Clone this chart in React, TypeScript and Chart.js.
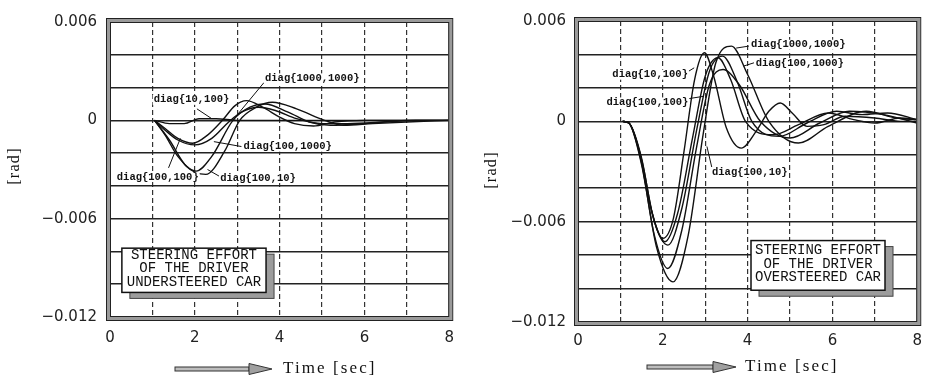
import React, { useEffect, useRef } from "react";
import { Chart, registerables } from "chart.js";

Chart.register(...registerables);

type P = [number, number];

// ---------- Understeered car (left panel) ----------
const under_10_100: P[] = [[1.05, 0], [1.4, -0.0002], [1.75, -0.0002], [2.1, 0.0001], [2.5, 0.0001], [3.0, 0], [8, 0]];
const under_1000_1000: P[] = [[1.05, 0], [1.3, -0.0005], [1.6, -0.0011], [1.95, -0.0014], [2.3, -0.0009], [2.65, 0], [2.95, 0.0009], [3.22, 0.0012], [3.6, 0.0008], [4.0, 0.0002], [4.35, -0.0002], [4.8, -0.00035], [5.3, -0.0001], [6.0, 0], [8, 0]];
const under_100_1000: P[] = [[1.05, 0], [1.3, -0.0006], [1.6, -0.0012], [2.0, -0.0015], [2.4, -0.0011], [2.8, -0.0001], [3.1, 0.0005], [3.5, 0.0008], [3.9, 0.0006], [4.4, 0.0001], [5.0, -0.0002], [5.6, -0.0002], [6.5, -0.0001], [7.2, 0], [8, 0]];
const under_100_100: P[] = [[1.05, 0], [1.3, -0.0009], [1.6, -0.0022], [2.03, -0.0031], [2.4, -0.0022], [2.9, 0], [3.3, 0.0008], [3.65, 0.001], [4.2, 0.0005], [4.7, -0.0001], [5.2, -0.0003], [6.0, -0.0002], [7.0, 0], [8, 0]];
const under_100_10: P[] = [[1.05, 0], [1.4, -0.0012], [1.8, -0.0028], [2.26, -0.0033], [2.7, -0.0019], [3.06, 0], [3.45, 0.0008], [3.83, 0.0011], [4.4, 0.0007], [5.06, 0], [5.5, -0.0003], [6.2, -0.0002], [7.0, -0.0001], [8, 0]];

// ---------- Oversteered car (right panel) ----------
const over_10_100: P[] = [[1.05, 0], [1.2, -0.0001], [1.45, -0.0018], [1.7, -0.005], [2.0, -0.007], [2.25, -0.0058], [2.5, -0.0018], [2.75, 0.0025], [2.98, 0.0041], [3.2, 0.0027], [3.5, -0.0004], [3.85, -0.0016], [4.2, -0.0006], [4.5, 0.0006], [4.77, 0.0011], [5.05, 0.0005], [5.4, -0.0003], [5.8, -0.0002], [6.3, 0.0003], [7.0, 0.0002], [7.6, 0], [8, 0]];
const over_100_100: P[] = [[1.05, 0], [1.2, -0.0001], [1.5, -0.0022], [1.75, -0.0055], [2.05, -0.0072], [2.35, -0.0055], [2.7, -0.001], [3.0, 0.0027], [3.3, 0.0038], [3.6, 0.0025], [3.95, 0], [4.6, -0.0008], [5.2, -0.0002], [5.9, 0.0005], [6.5, 0.0001], [7.0, -0.0001], [7.6, 0.0002], [8, 0.0001]];
const over_100_10: P[] = [[1.05, 0], [1.2, -0.0001], [1.5, -0.0023], [1.8, -0.006], [2.12, -0.0074], [2.45, -0.0052], [2.8, -0.0005], [3.1, 0.003], [3.41, 0.0039], [3.75, 0.0024], [4.1, 0], [4.75, -0.0009], [5.4, -0.0001], [6.1, 0.0006], [6.7, 0.0004], [7.3, 0.0005], [8, 0.0001]];
const over_100_1000: P[] = [[1.05, 0], [1.2, -0.0001], [1.5, -0.0025], [1.8, -0.0068], [2.12, -0.0088], [2.45, -0.0065], [2.8, -0.0015], [3.1, 0.0022], [3.42, 0.0031], [3.8, 0.0022], [4.3, 0], [5.0, -0.001], [5.7, -0.0001], [6.4, 0.0006], [7.2, 0.0004], [8, -0.0001]];
const over_1000_1000: P[] = [[1.05, 0], [1.2, -0.0001], [1.5, -0.0026], [1.85, -0.0075], [2.24, -0.0096], [2.6, -0.0068], [2.95, -0.0008], [3.25, 0.0035], [3.62, 0.0045], [4.0, 0.0028], [4.5, 0], [5.2, -0.0013], [5.9, -0.0003], [6.8, 0.0006], [7.5, 0.0002], [8, 0.0001]];

// ---------- Axes ----------
const xMin = 0, xMax = 8, xStep = 1;
const yMin = -0.012, yMax = 0.006, yStep = 0.002;

// ---------- Annotations (text, anchor [t, v], leader from -> to) ----------
type Lbl = { text: string; at: P; from: P; to: P };
const underLabels: Lbl[] = [
  { text: "diag{1000,1000}", at: [3.655, 0.00256], from: [3.63, 0.0023], to: [2.99, 0.0003] },
  { text: "diag{10,100}", at: [1.03, 0.00125], from: [2.05, 0.0007], to: [2.4, 0.0001] },
  { text: "diag{100,1000}", at: [3.15, -0.00161], from: [3.1, -0.0016], to: [2.45, -0.0013] },
  { text: "diag{100,100}", at: [0.16, -0.00346], from: [1.38, -0.0029], to: [1.66, -0.0011] },
  { text: "diag{100,10}", at: [2.6, -0.00352], from: [2.57, -0.0034], to: [2.3, -0.003] },
];
const overLabels: Lbl[] = [
  { text: "diag{1000,1000}", at: [4.08, 0.00458], from: [4.03, 0.0045], to: [3.73, 0.00438] },
  { text: "diag{100,1000}", at: [4.19, 0.00345], from: [4.15, 0.0035], to: [3.9, 0.0033] },
  { text: "diag{10,100}", at: [0.81, 0.00279], from: [2.42, 0.0027], to: [2.74, 0.0032] },
  { text: "diag{100,100}", at: [0.67, 0.00113], from: [2.47, 0.0013], to: [2.97, 0.0015] },
  { text: "diag{100,10}", at: [3.16, -0.00303], from: [3.16, -0.0028], to: [3.04, -0.0015] },
];
const underBoxLines = ["STEERING EFFORT", "OF THE DRIVER", "UNDERSTEERED CAR"];
const overBoxLines = ["STEERING EFFORT", "OF THE DRIVER", "OVERSTEERED CAR"];
const xTitle = "Time [sec]";
const yTitle = "[rad]";

const decorPlugin = {
  id: "decor",
  afterDatasetsDraw(chart: any, _a: any, o: any) {
    const ctx = chart.ctx;
    const xs = chart.scales.x, ys = chart.scales.y;
    const X = (t: number) => xs.getPixelForValue(t);
    const Y = (v: number) => ys.getPixelForValue(v);
    ctx.save();
    // labels & leaders
    ctx.strokeStyle = "#111";
    ctx.lineWidth = 1;
    ctx.fillStyle = "#111";
    ctx.font = "bold 10.5px 'Liberation Mono'";
    ctx.textBaseline = "middle";
    ctx.textAlign = "left";
    for (const l of o.labels as Lbl[]) {
      ctx.beginPath();
      ctx.moveTo(X(l.from[0]), Y(l.from[1]));
      ctx.lineTo(X(l.to[0]), Y(l.to[1]));
      ctx.stroke();
      const tx = X(l.at[0]), ty = Y(l.at[1]);
      const w = ctx.measureText(l.text).width;
      ctx.fillStyle = "#fff";
      ctx.fillRect(tx - 1, ty - 5, w + 2, 10);
      ctx.fillStyle = "#111";
      ctx.fillText(l.text, tx, ty);
    }
    // box with shadow
    const b = o.box;
    const bx0 = X(b.x0), bx1 = X(b.x1), by0 = Y(b.y0), by1 = Y(b.y1);
    ctx.fillStyle = "#9c9c9c";
    ctx.strokeStyle = "#444";
    ctx.lineWidth = 1;
    ctx.fillRect(bx0 + 8, by0 + 6, bx1 - bx0, by1 - by0);
    ctx.strokeRect(bx0 + 8, by0 + 6, bx1 - bx0, by1 - by0);
    ctx.fillStyle = "#fff";
    ctx.fillRect(bx0, by0, bx1 - bx0, by1 - by0);
    ctx.strokeStyle = "#111";
    ctx.lineWidth = 1.5;
    ctx.strokeRect(bx0, by0, bx1 - bx0, by1 - by0);
    ctx.fillStyle = "#111";
    ctx.font = "14px 'Liberation Mono'";
    ctx.textAlign = "center";
    const cx = (bx0 + bx1) / 2, cy = (by0 + by1) / 2 - 1.5;
    (b.lines as string[]).forEach((s, i) => ctx.fillText(s, cx, cy + (i - 1) * 13.5));
    ctx.restore();
  },
  afterDraw(chart: any, _a: any, o: any) {
    const ctx = chart.ctx;
    const ca = chart.chartArea;
    ctx.save();
    // frame
    ctx.strokeStyle = "#9a9a9a";
    ctx.lineWidth = 4;
    ctx.strokeRect(ca.left - 1, ca.top - 1, ca.right - ca.left + 2, ca.bottom - ca.top + 2);
    ctx.strokeStyle = "#222";
    ctx.lineWidth = 1;
    ctx.strokeRect(ca.left - 3.5, ca.top - 3.5, ca.right - ca.left + 7, ca.bottom - ca.top + 7);
    ctx.strokeRect(ca.left + 0.5, ca.top + 0.5, ca.right - ca.left - 1, ca.bottom - ca.top - 1);
    // y title
    ctx.fillStyle = "#111";
    ctx.font = "16px 'Liberation Serif'";
    (ctx as any).letterSpacing = "1.3px";
    ctx.textAlign = "center";
    ctx.textBaseline = "middle";
    ctx.translate(o.yTitlePos[0], o.yTitlePos[1]);
    ctx.rotate(-Math.PI / 2);
    ctx.fillText(yTitle, 0, 0);
    ctx.setTransform(1, 0, 0, 1, 0, 0);
    // arrow
    const [ax0, ax1, ay] = o.arrow;
    const head = 23;
    ctx.fillStyle = "#bdbdbd";
    ctx.strokeStyle = "#333";
    ctx.lineWidth = 1;
    ctx.fillRect(ax0, ay - 2, ax1 - head - ax0, 4);
    ctx.strokeRect(ax0, ay - 2, ax1 - head - ax0, 4);
    ctx.beginPath();
    ctx.moveTo(ax1 - head, ay - 5.5);
    ctx.lineTo(ax1, ay);
    ctx.lineTo(ax1 - head, ay + 5.5);
    ctx.closePath();
    ctx.fillStyle = "#a0a0a0";
    ctx.fill();
    ctx.stroke();
    // x title
    ctx.fillStyle = "#111";
    ctx.font = "17px 'Liberation Serif'";
    (ctx as any).letterSpacing = "2.1px";
    ctx.textAlign = "left";
    ctx.textBaseline = "middle";
    ctx.fillText(xTitle, o.xTitlePos[0], o.xTitlePos[1]);
    ctx.restore();
  },
};

function makeDatasets(series: P[][]) {
  return series.map((s) => ({
    data: s.map(([x, y]) => ({ x, y })),
    borderColor: "#111",
    borderWidth: 1.4,
    pointRadius: 0,
    fill: false,
    cubicInterpolationMode: "monotone" as const,
  }));
}

function yLabel(value: number) {
  const v = Math.round(value * 1000);
  if (v % 6 !== 0) return "";
  if (v === 0) return "0";
  return (v < 0 ? "\u2212" : "") + Math.abs(v / 1000).toFixed(3);
}

type PanelProps = {
  series: P[][];
  labels: Lbl[];
  box: any;
  pad: { top: number; right: number };
  yWidth: number;
  xHeight: number;
  xTickPad: number;
  yTickPad: number;
  yTitlePos: P;
  arrow: [number, number, number];
  xTitlePos: P;
};

function Panel(p: PanelProps) {
  const ref = useRef<HTMLCanvasElement>(null);
  useEffect(() => {
    const chart = new Chart(ref.current!, {
      type: "line",
      data: { datasets: makeDatasets(p.series) as any },
      plugins: [decorPlugin as any],
      options: {
        responsive: false,
        animation: false,
        events: [],
        layout: { padding: { top: p.pad.top, right: p.pad.right, left: 0, bottom: 0 } },
        plugins: {
          legend: { display: false },
          tooltip: { enabled: false },
          decor: {
            labels: p.labels,
            box: p.box,
            yTitlePos: p.yTitlePos,
            arrow: p.arrow,
            xTitlePos: p.xTitlePos,
          },
        } as any,
        scales: {
          x: {
            type: "linear",
            min: xMin,
            max: xMax,
            afterFit: (s: any) => { s.height = p.xHeight; },
            ticks: {
              stepSize: xStep,
              autoSkip: false,
              maxRotation: 0,
              padding: p.xTickPad,
              color: "#222",
              font: { family: "'DejaVu Sans'", size: 15 },
              callback: (v: any) => (Math.round(v) % 2 === 0 ? String(Math.round(v)) : ""),
            },
            grid: { color: "#333", lineWidth: 1.2, drawTicks: false },
            border: { display: false, dash: [5, 3] },
          },
          y: {
            type: "linear",
            min: yMin,
            max: yMax,
            afterFit: (s: any) => { s.width = p.yWidth; },
            ticks: {
              stepSize: yStep,
              autoSkip: false,
              padding: p.yTickPad,
              color: "#222",
              font: { family: "'DejaVu Sans'", size: 15 },
              callback: (v: any) => yLabel(Number(v)),
            },
            grid: { color: "#222", lineWidth: 1.5, drawTicks: false },
            border: { display: false },
          },
        },
      },
    });
    return () => chart.destroy();
  }, []);
  return <canvas ref={ref} width={466} height={380} style={{ display: "block", width: 466, height: 380 }} />;
}

export default function App() {
  return (
    <div style={{ position: "absolute", left: 0, top: 0, width: 932, height: 380, display: "flex", background: "#fff" }}>
      <Panel
        series={[under_10_100, under_1000_1000, under_100_1000, under_100_100, under_100_10]}
        labels={underLabels}
        box={{ x0: 0.28, x1: 3.68, y0: -0.0078, y1: -0.0105, lines: underBoxLines }}
        pad={{ top: 15, right: 8 }}
        yWidth={110}
        xHeight={63}
        xTickPad={12}
        yTickPad={13}
        yTitlePos={[15, 166]}
        arrow={[175, 272, 369]}
        xTitlePos={[283, 369]}
      />
      <Panel
        series={[over_10_100, over_100_100, over_100_10, over_100_1000, over_1000_1000]}
        labels={overLabels}
        box={{ x0: 4.08, x1: 7.24, y0: -0.00713, y1: -0.0101, lines: overBoxLines }}
        pad={{ top: 19, right: 7 }}
        yWidth={112}
        xHeight={58}
        xTickPad={10}
        yTickPad={12}
        yTitlePos={[26, 170]}
        arrow={[181, 270, 367]}
        xTitlePos={[279, 367]}
      />
    </div>
  );
}
